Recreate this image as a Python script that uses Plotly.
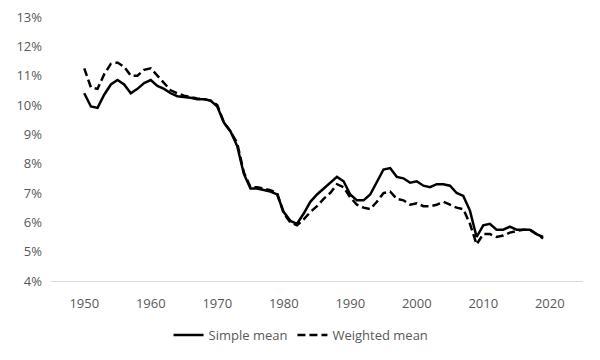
import plotly.graph_objects as go

years = list(range(1950, 2020))

simple_mean = [
    10.40, 9.95, 9.90, 10.35, 10.70, 10.85, 10.70, 10.40, 10.55, 10.75,
    10.85, 10.65, 10.55, 10.40, 10.30, 10.28, 10.25, 10.20, 10.20, 10.15,
    9.95, 9.40, 9.10, 8.60, 7.65, 7.15, 7.15, 7.10, 7.05, 6.95,
    6.35, 6.05, 5.95, 6.30, 6.70, 6.95, 7.15, 7.35, 7.55, 7.40,
    6.95, 6.75, 6.75, 6.95, 7.40, 7.80, 7.85, 7.55, 7.50, 7.35,
    7.40, 7.25, 7.20, 7.30, 7.30, 7.25, 7.00, 6.90, 6.40, 5.50,
    5.90, 5.95, 5.75, 5.75, 5.85, 5.75, 5.75, 5.75, 5.60, 5.50,
]

weighted_mean = [
    11.25, 10.60, 10.55, 11.05, 11.40, 11.45, 11.30, 11.00, 11.00, 11.20,
    11.25, 11.00, 10.75, 10.50, 10.40, 10.32, 10.27, 10.22, 10.20, 10.15,
    10.00, 9.40, 9.10, 8.70, 7.70, 7.20, 7.20, 7.15, 7.10, 7.00,
    6.30, 6.00, 5.90, 6.10, 6.35, 6.55, 6.80, 7.00, 7.30, 7.20,
    6.85, 6.60, 6.50, 6.45, 6.70, 7.00, 7.05, 6.80, 6.75, 6.60,
    6.65, 6.55, 6.55, 6.60, 6.70, 6.60, 6.50, 6.45, 5.95, 5.25,
    5.60, 5.60, 5.50, 5.55, 5.65, 5.70, 5.75, 5.75, 5.60, 5.45,
]

x_ticks = [1950, 1960, 1970, 1980, 1990, 2000, 2010, 2020]
y_ticks = [4, 5, 6, 7, 8, 9, 10, 11, 12, 13]
y_tick_labels = [f"{v}%" for v in y_ticks]

fig = go.Figure()
fig.add_trace(go.Scatter(
    x=years, y=simple_mean, mode="lines", name="Simple mean",
    line=dict(color="black", width=2.5),
))
fig.add_trace(go.Scatter(
    x=years, y=weighted_mean, mode="lines", name="Weighted mean",
    line=dict(color="black", width=2.5, dash="8px,4px"),
))

font_family = "Open Sans, Liberation Sans, sans-serif"
W, H = 592, 352
fig.update_layout(
    width=W, height=H,
    margin=dict(l=43, r=17, t=9, b=79, autoexpand=False),
    paper_bgcolor="white", plot_bgcolor="white",
    font=dict(family=font_family, size=13, color="#595959"),
    showlegend=True,
    legend=dict(orientation="h", x=0.495, xanchor="center", xref="container",
                y=25 / H, yanchor="middle", yref="container",
                itemwidth=30, font=dict(size=13, color="#595959")),
    xaxis=dict(range=[1945, 2025], tickvals=x_ticks, showgrid=False, zeroline=False,
               showline=True, linecolor="#d9d9d9", linewidth=1, ticks="",
               ticklabelstandoff=10, ticklabeloverflow="allow"),
    yaxis=dict(range=[4, 13], tickvals=y_ticks, ticktext=y_tick_labels, showgrid=False,
               zeroline=False, showline=False, ticks="", ticklabelstandoff=8,
               ticklabeloverflow="allow"),
)

fig.write_html("out.html")
